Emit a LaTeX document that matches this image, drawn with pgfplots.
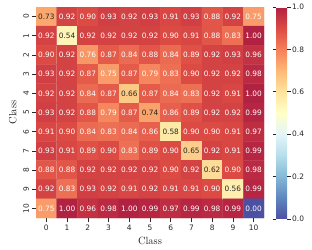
\documentclass[border=0pt]{standalone}
\usepackage{pgfplots}
\usepackage{pgfplotstable}
\pgfplotsset{compat=1.18}
\usepackage{fontspec}
\newfontfamily\dejavu{DejaVu Sans}
\definecolor{txtdark}{HTML}{262626}
\pgfplotstableread{
x y c
0 0 0.73
1 0 0.92
2 0 0.90
3 0 0.93
4 0 0.92
5 0 0.93
6 0 0.91
7 0 0.93
8 0 0.88
9 0 0.92
10 0 0.75
0 1 0.92
1 1 0.54
2 1 0.92
3 1 0.92
4 1 0.92
5 1 0.92
6 1 0.90
7 1 0.91
8 1 0.88
9 1 0.83
10 1 1.00
0 2 0.90
1 2 0.92
2 2 0.76
3 2 0.87
4 2 0.84
5 2 0.88
6 2 0.84
7 2 0.89
8 2 0.92
9 2 0.93
10 2 0.96
0 3 0.93
1 3 0.92
2 3 0.87
3 3 0.75
4 3 0.87
5 3 0.79
6 3 0.83
7 3 0.90
8 3 0.92
9 3 0.92
10 3 0.98
0 4 0.92
1 4 0.92
2 4 0.84
3 4 0.87
4 4 0.66
5 4 0.87
6 4 0.84
7 4 0.83
8 4 0.92
9 4 0.91
10 4 1.00
0 5 0.93
1 5 0.92
2 5 0.88
3 5 0.79
4 5 0.87
5 5 0.74
6 5 0.86
7 5 0.89
8 5 0.92
9 5 0.92
10 5 0.99
0 6 0.91
1 6 0.90
2 6 0.84
3 6 0.83
4 6 0.84
5 6 0.86
6 6 0.58
7 6 0.90
8 6 0.90
9 6 0.91
10 6 0.97
0 7 0.93
1 7 0.91
2 7 0.89
3 7 0.90
4 7 0.83
5 7 0.89
6 7 0.90
7 7 0.65
8 7 0.92
9 7 0.91
10 7 0.99
0 8 0.88
1 8 0.88
2 8 0.92
3 8 0.92
4 8 0.92
5 8 0.92
6 8 0.90
7 8 0.92
8 8 0.62
9 8 0.90
10 8 0.98
0 9 0.92
1 9 0.83
2 9 0.93
3 9 0.92
4 9 0.91
5 9 0.92
6 9 0.91
7 9 0.91
8 9 0.90
9 9 0.56
10 9 0.99
0 10 0.75
1 10 1.00
2 10 0.96
3 10 0.98
4 10 1.00
5 10 0.99
6 10 0.97
7 10 0.99
8 10 0.98
9 10 0.99
10 10 0.00
}\conf
\begin{document}
\begin{tikzpicture}
\begin{axis}[
  scale only axis,
  width=228bp, height=211bp,
  xmin=-0.5, xmax=10.5, ymin=-0.5, ymax=10.5,
  y dir=reverse,
  axis line style={draw=none},
  xtick={0,...,10}, ytick={0,...,10},
  tick align=outside,
  major tick length=3.5bp,
  tick style={txtdark, line width=0.6pt},
  xtick pos=bottom, ytick pos=left,
  /pgf/number format/assume math mode=true,
  ticklabel style={font=\dejavu\fontsize{7.5}{9}\selectfont, text=txtdark},
  yticklabel style={rotate=90, anchor=south},
  xlabel={Class}, ylabel={Class},
  label style={font=\fontsize{10.5}{12}\selectfont, text=txtdark},
  colormap={rdylbu}{rgb255=(76,80,163) rgb255=(93,135,190) rgb255=(134,184,215) rgb255=(182,222,236) rgb255=(228,245,249) rgb255=(255,255,199) rgb255=(254,228,158) rgb255=(253,184,118) rgb255=(245,128,91) rgb255=(220,75,67) rgb255=(177,33,66)},
  point meta min=0, point meta max=1,
  colorbar,
  colorbar shift/.style={xshift=0pt},
  colorbar style={
    scale only axis,
    at={(parent axis.north east)}, anchor=north west,
    xshift=12bp, width=11bp, height=212bp,
    axis line style={draw=none},
    ytick={0,0.2,0.4,0.6,0.8,1.0},
    yticklabel style={font=\dejavu\fontsize{7.5}{9}\selectfont, text=txtdark, inner sep=1.5bp,
      /pgf/number format/.cd, fixed, fixed zerofill, precision=1, assume math mode=true},
    tick align=outside, major tick length=3.5bp,
    tick style={txtdark, line width=0.6pt},
  },
  nodes near coords={\ifdim\pgfplotspointmetatransformed pt<745pt\ifdim\pgfplotspointmetatransformed pt<400pt\color{white}\else\color{txtdark}\fi\else\color{white}\fi\pgfmathprintnumber[fixed,fixed zerofill,precision=2,assume math mode=true]{\pgfplotspointmeta}},
  every node near coord/.append style={anchor=center, font=\dejavu\fontsize{7.4}{9}\selectfont, inner sep=0pt},
]
\addplot[matrix plot*, mesh/cols=11, point meta=explicit] table[x=x, y=y, meta=c] {\conf};
\end{axis}
\pgfresetboundingbox
\path (-36bp,-32bp) rectangle (276bp,218bp);
\end{tikzpicture}
\end{document}
